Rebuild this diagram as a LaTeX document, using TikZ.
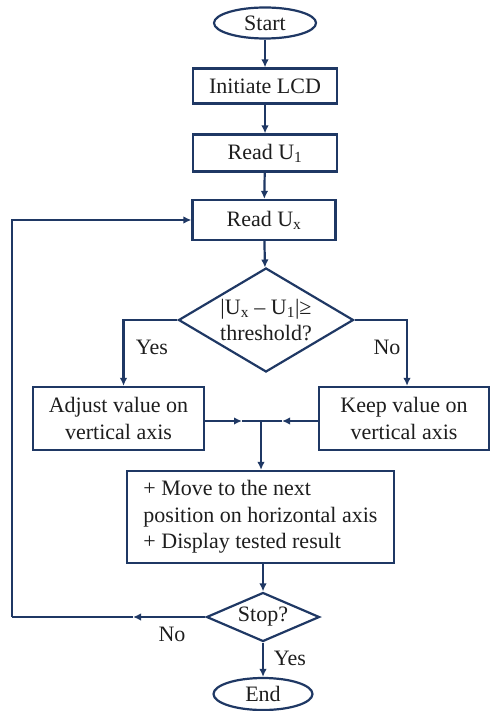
\documentclass[tikz,border=0pt]{standalone}
\usepackage{fontspec}
\setmainfont{Liberation Serif}
\usetikzlibrary{shapes.geometric,arrows.meta}
\definecolor{navy}{RGB}{31,56,100}
\definecolor{txt}{RGB}{30,30,30}
\begin{document}
\begin{tikzpicture}[x=1pt,y=-1pt,
  every node/.style={text=txt,font=\fontsize{22}{26.5}\selectfont},
  ln/.style={draw=navy,line width=2.2pt},
  arr/.style={ln,-{Latex[length=8pt,width=7.5pt]}},
  boxn/.style={draw=navy,line width=2.2pt,fill=white,rectangle,inner sep=0pt,align=center},
  term/.style={draw=navy,line width=2.2pt,fill=white,ellipse,inner sep=0pt},
  dia/.style={draw=navy,line width=2.2pt,fill=white,diamond,inner sep=0pt,align=center},
  lab/.style={inner sep=0pt}]
\useasboundingbox (0,0) rectangle (491,711);
\node[term,minimum width=102pt,minimum height=31pt] (start) at (265,23) {Start};
\node[boxn,minimum width=144pt,minimum height=35pt] (init) at (265,86) {Initiate LCD};
\node[boxn,minimum width=144pt,minimum height=37pt] (r1) at (265,153) {Read U\textsubscript{1}};
\node[boxn,minimum width=143pt,minimum height=40pt] (rx) at (264,220) {Read U\textsubscript{x}};
\node[dia,aspect=1.68,minimum width=175pt,minimum height=104pt] (dec) at (266,320) {|U\textsubscript{x} – U\textsubscript{1}|≥\\threshold?};
\node[boxn,minimum width=171pt,minimum height=63pt] (adj) at (118.5,418.5) {Adjust value on\\vertical axis};
\node[boxn,minimum width=170pt,minimum height=63pt] (keep) at (404,418.5) {Keep value on\\vertical axis};
\node[boxn,minimum width=267pt,minimum height=92pt,align=left] (move) at (260.5,517) {+ Move to the next\\position on horizontal axis\\+ Display tested result};
\node[dia,aspect=2.3,minimum width=113pt,minimum height=49pt] (stop) at (263,617) {Stop?};
\node[term,minimum width=99pt,minimum height=32pt] (end) at (263,694) {End};
\node[lab] (yes1) at (152,347) {Yes};
\node[lab] (no1) at (387,347) {No};
\node[lab] (no2) at (172,634) {No};
\node[lab] (yes2) at (290,658) {Yes};
\coordinate (ja) at (242,421);
\coordinate (jb) at (282,421);
\coordinate (j) at (261,421);
\coordinate (na) at (133,617);
\coordinate (loop) at (12,617);
\draw[arr] (start) -- (init);
\draw[arr] (init) -- (r1);
\draw[arr] (r1) -- (rx);
\draw[arr] (rx) -- (dec);
\draw[arr] (dec.west) -| ([xshift=5pt]adj.north);
\draw[arr] (dec.east) -| ([xshift=3pt]keep.north);
\draw[arr] (adj.east |- ja) -- (ja);
\draw[ln] (ja) -- (j);
\draw[arr] (keep.west |- jb) -- (jb);
\draw[ln] (jb) -- (j);
\draw[arr] (j) -- (j |- move.north);
\draw[arr] (move.south -| stop) -- (stop.north);
\draw[arr] (stop.west) -- (na);
\draw[ln] (na) -- (loop);
\draw[arr] (loop) |- (rx.west);
\draw[arr] (stop.south) -- (end.north);
\end{tikzpicture}
\end{document}
